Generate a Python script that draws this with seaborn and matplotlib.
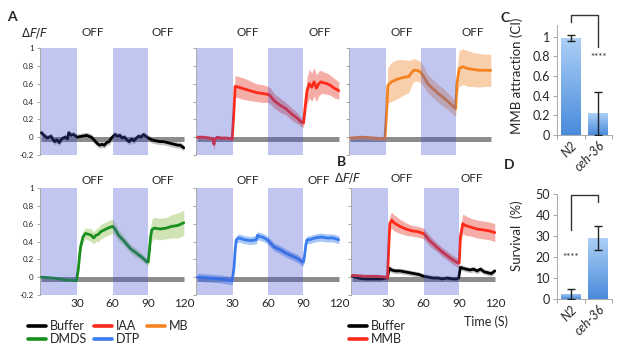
import numpy as np
import pandas as pd
import seaborn as sns
import matplotlib.pyplot as plt
from matplotlib.lines import Line2D

# ---- calcium traces (time in s, dF/F, half-width of band) ----
iaa_t = [0, 5, 10, 13, 14, 15, 17, 20, 25, 29.5, 31, 32, 35, 40, 45, 50, 55, 60, 62, 65, 70, 75, 80, 85, 88, 90,
         91.5, 93, 95, 97, 99, 101, 103, 105, 107, 110, 113, 116, 119, 120]
iaa_v = [0.0, 0.0, -0.01, -0.02, -0.08, -0.02, 0.0, -0.01, -0.01, -0.02, 0.3, 0.57, 0.56, 0.54, 0.52, 0.5, 0.49,
         0.48, 0.46, 0.41, 0.36, 0.32, 0.26, 0.21, 0.17, 0.16, 0.35, 0.52, 0.6, 0.56, 0.62, 0.55, 0.6, 0.62, 0.61,
         0.6, 0.58, 0.55, 0.53, 0.52]
iaa_e = [0.02, 0.02, 0.02, 0.03, 0.07, 0.03, 0.02, 0.02, 0.02, 0.02, 0.1, 0.12, 0.12, 0.12, 0.11, 0.1, 0.1, 0.09,
         0.09, 0.08, 0.08, 0.07, 0.07, 0.06, 0.05, 0.05, 0.12, 0.15, 0.16, 0.16, 0.16, 0.15, 0.14, 0.13, 0.12,
         0.12, 0.11, 0.11, 0.1, 0.1]

mb_t = [0, 10, 20, 29.5, 31, 32, 35, 40, 45, 50, 52, 54, 57, 60, 63, 66, 70, 75, 80, 85, 89, 90, 91, 93, 96,
        100, 105, 110, 115, 120]
mb_v = [-0.01, 0.0, -0.01, -0.02, 0.3, 0.58, 0.62, 0.65, 0.67, 0.68, 0.72, 0.75, 0.75, 0.73, 0.67, 0.6, 0.55,
        0.49, 0.44, 0.38, 0.33, 0.32, 0.6, 0.77, 0.79, 0.77, 0.76, 0.75, 0.75, 0.75]
mb_e = [0.02, 0.02, 0.02, 0.02, 0.15, 0.2, 0.22, 0.22, 0.2, 0.18, 0.15, 0.13, 0.12, 0.12, 0.11, 0.1, 0.1, 0.1,
        0.1, 0.09, 0.09, 0.09, 0.15, 0.2, 0.2, 0.2, 0.19, 0.19, 0.18, 0.18]

dmds_t = [0, 10, 20, 29.5, 31, 32, 33, 35, 37, 40, 42, 44, 46, 48, 50, 53, 56, 58, 60, 62, 65, 70, 75, 80, 85,
          89, 90, 91, 92, 93, 95, 100, 105, 110, 115, 120]
dmds_v = [0.0, -0.01, -0.03, -0.04, 0.08, 0.22, 0.34, 0.45, 0.49, 0.48, 0.47, 0.44, 0.47, 0.48, 0.51, 0.53,
          0.55, 0.56, 0.57, 0.54, 0.47, 0.4, 0.32, 0.27, 0.22, 0.17, 0.17, 0.3, 0.45, 0.53, 0.55, 0.54, 0.55,
          0.57, 0.58, 0.61]
dmds_e = [0.01, 0.01, 0.01, 0.01, 0.03, 0.04, 0.05, 0.06, 0.06, 0.07, 0.07, 0.07, 0.07, 0.08, 0.08, 0.08, 0.08,
          0.08, 0.08, 0.07, 0.06, 0.05, 0.05, 0.05, 0.04, 0.04, 0.04, 0.07, 0.1, 0.12, 0.12, 0.12, 0.12, 0.13,
          0.14, 0.14]

dtp_t = [0, 10, 20, 29.5, 31, 32, 33, 35, 40, 45, 50, 51, 52, 55, 58, 60, 65, 70, 75, 80, 85, 89, 90, 91, 92,
         93, 95, 100, 105, 110, 115, 120]
dtp_v = [0.0, -0.01, -0.02, -0.04, 0.1, 0.3, 0.42, 0.44, 0.42, 0.41, 0.42, 0.47, 0.46, 0.45, 0.43, 0.41, 0.34,
         0.31, 0.27, 0.24, 0.21, 0.17, 0.17, 0.25, 0.36, 0.42, 0.42, 0.44, 0.45, 0.44, 0.44, 0.42]
dtp_e = 0.045

buf_t = [0, 2, 5, 8, 11, 13, 15, 17, 20, 22, 23, 25, 27, 30, 34, 38, 42, 45, 47, 49, 51, 53, 55, 57, 59, 62, 64,
         66, 68, 70, 72, 74, 76, 78, 80, 82, 84, 86, 88, 90, 93, 96, 100, 103, 106, 109, 112, 115, 117, 119, 120]
buf_v = [0.05, 0.02, -0.01, 0.01, -0.05, -0.03, -0.06, -0.02, 0.0, -0.02, 0.05, 0.02, 0.03, 0.0, 0.01, 0.02,
         0.0, -0.04, -0.07, -0.09, -0.08, -0.09, -0.06, -0.05, -0.01, 0.03, 0.01, 0.02, -0.01, 0.0, -0.03, -0.05,
         -0.02, -0.04, -0.01, 0.01, 0.0, 0.03, 0.01, -0.01, -0.03, -0.04, -0.05, -0.05, -0.06, -0.07, -0.08,
         -0.09, -0.09, -0.11, -0.12]
buf_e = 0.035

mmb_t = [0, 10, 20, 28, 29.5, 30.5, 31.5, 33, 35, 40, 45, 50, 55, 60, 65, 70, 75, 80, 85, 89, 90, 91, 93, 95,
         100, 105, 110, 115, 120]
mmb_v = [0.02, 0.01, 0.01, 0.0, -0.01, 0.3, 0.6, 0.64, 0.61, 0.57, 0.54, 0.52, 0.51, 0.49, 0.41, 0.35, 0.29,
         0.24, 0.19, 0.16, 0.16, 0.45, 0.6, 0.58, 0.56, 0.54, 0.53, 0.52, 0.5]
mmb_e = [0.02, 0.02, 0.02, 0.02, 0.02, 0.06, 0.09, 0.09, 0.09, 0.08, 0.07, 0.06, 0.06, 0.06, 0.06, 0.05, 0.05,
         0.05, 0.05, 0.05, 0.05, 0.08, 0.11, 0.11, 0.1, 0.1, 0.1, 0.1, 0.1]

bbuf_t = [0, 5, 10, 15, 20, 25, 28, 29.5, 31, 33, 36, 40, 44, 48, 52, 56, 60, 64, 68, 72, 76, 80, 84, 88, 89.5,
          91, 93, 96, 99, 102, 105, 108, 111, 114, 117, 120]
bbuf_v = [0.01, -0.01, -0.02, -0.02, -0.02, -0.02, -0.01, -0.01, 0.1, 0.08, 0.07, 0.07, 0.06, 0.05, 0.04, 0.03,
          0.01, 0.0, -0.01, -0.01, -0.02, -0.01, -0.02, -0.02, -0.01, 0.11, 0.1, 0.09, 0.08, 0.09, 0.07, 0.09,
          0.06, 0.05, 0.04, 0.07]
bbuf_e = 0.03

# ---- behaviour panels ----
genotypes = ['N2', 'ceh-36']
attraction = [0.99, 0.22]
attraction_err = [0.03, 0.22]
survival = [2.5, 29]
survival_err = [2.5, 5.8]

COLORS = {'Buffer': '#000000', 'IAA': '#ff2a1a', 'MB': '#f58220', 'DMDS': '#17901d', 'DTP': '#3a7cf0',
          'MMB': '#ff2a1a'}
BANDS = {'Buffer': '#8f8f8f', 'IAA': '#ee6a60', 'MB': '#f5a866', 'DMDS': '#a8cc78', 'DTP': '#5e98ec',
         'MMB': '#ee6a60'}

W, H = 617, 354
sns.set_style('ticks')
plt.rcParams['font.family'] = ['Lato', 'DejaVu Sans']
fig = plt.figure(figsize=(W / 100, H / 100), dpi=100)


def px_axes(x0, y0, x1, y1):
    return fig.add_axes([x0 / W, 1 - y1 / H, (x1 - x0) / W, (y1 - y0) / H])


def ftext(x, y, s, **kw):
    fig.text(x / W, 1 - y / H, s, ha=kw.pop('ha', 'center'), va=kw.pop('va', 'center'), **kw)


def trace_panel(box, traces, left_labels, bottom_labels):
    ax = px_axes(*box)
    ax.plot([0, 120], [-0.025, -0.025], color='#8c8c8c', lw=3.6, zorder=1, solid_capstyle='butt')
    for name, t, v, e in traces:
        v = np.asarray(v)
        e = np.asarray(e) if np.ndim(e) else np.full(len(v), e)
        ax.fill_between(t, v - e, v + e, color=BANDS[name], alpha=0.55, lw=0, zorder=2)
        sns.lineplot(x=t, y=v, ax=ax, color=COLORS[name], lw=2.0, zorder=3, errorbar=None)
    for a, b in [(0, 30), (60, 90)]:
        ax.axvspan(a, b, color='#4052d1', alpha=0.33, lw=0, zorder=5)
    ax.set_xlim(-1.2, 121)
    ax.set_ylim(-0.2, 1)
    ax.set_yticks([-0.2, 0, 0.2, 0.4, 0.6, 0.8, 1])
    ax.set_yticklabels(['-0.2', '0', '0.2', '0.4', '0.6', '0.8', '1'] if left_labels else [])
    ax.tick_params(axis='y', length=2.5, width=0.6, color='#999999', labelsize=5.8, pad=2)
    ax.set_xticks([30, 60, 90, 120])
    ax.set_xticklabels(['30', '60', '90', '120'] if bottom_labels else [])
    ax.tick_params(axis='x', length=0, labelsize=8.5, pad=2)
    sns.despine(ax=ax, bottom=True)
    ax.spines['left'].set_color('#aaaaaa')
    ax.spines['left'].set_linewidth(0.7)
    ax.set_xlabel('')
    ax.set_ylabel('')
    return ax


top_y = (48, 155)
bot_y = (188, 295)
trace_panel((40, top_y[0], 185, top_y[1]), [('Buffer', buf_t, buf_v, buf_e)], True, False)
trace_panel((196, top_y[0], 340, top_y[1]), [('IAA', iaa_t, iaa_v, iaa_e)], False, False)
trace_panel((349, top_y[0], 492, top_y[1]), [('MB', mb_t, mb_v, mb_e)], False, False)
trace_panel((40, bot_y[0], 185, bot_y[1]), [('DMDS', dmds_t, dmds_v, dmds_e)], True, True)
trace_panel((196, bot_y[0], 340, bot_y[1]), [('DTP', dtp_t, dtp_v, dtp_e)], False, True)
trace_panel((351, bot_y[0], 496, bot_y[1]),
            [('Buffer', bbuf_t, bbuf_v, bbuf_e), ('MMB', mmb_t, mmb_v, mmb_e)], False, True)

# OFF / dF/F labels
for y, xs in [(33, [93, 163, 248, 320, 402, 473]), (180, [93, 163, 248, 319]), (178, [402, 472])]:
    for x in xs:
        ftext(x, y, 'OFF', fontsize=8.5)
ftext(35, 33, r'$\Delta F/F$', fontsize=8.5, math_fontfamily='dejavusans')
ftext(348, 178, r'$\Delta F/F$', fontsize=8.5, math_fontfamily='dejavusans')
ftext(486, 322, 'Time (S)', fontsize=9)

for x, y, s in [(12, 17, 'A'), (342, 162, 'B'), (505, 18, 'C'), (509, 165, 'D')]:
    ftext(x, y, s, fontsize=10, fontweight='bold')

# legends
handles = [Line2D([], [], color=COLORS[n], lw=2.6) for n in ['Buffer', 'DMDS', 'IAA', 'DTP', 'MB']]
fig.legend(handles, ['Buffer', 'DMDS', 'IAA', 'DTP', 'MB'], ncol=3, loc='upper left',
           bbox_to_anchor=(22 / W, 1 - 314 / H), frameon=False, fontsize=9, handlelength=1.4,
           handletextpad=0.3, columnspacing=0.6, labelspacing=0.05, borderpad=0)
fig.legend([Line2D([], [], color=COLORS['Buffer'], lw=2.6), Line2D([], [], color=COLORS['MMB'], lw=2.6)],
           ['Buffer', 'MMB'], loc='upper left', bbox_to_anchor=(343 / W, 1 - 314 / H), frameon=False,
           fontsize=9, handlelength=1.4, handletextpad=0.3, labelspacing=0.05, borderpad=0)


def bar_panel(box, vals, errs, ylim, yticks, ylabel, ylabel_xy, bracket, star_xy):
    ax = px_axes(*box)
    df = pd.DataFrame({'genotype': genotypes, 'value': vals})
    sns.barplot(data=df, x='genotype', y='value', ax=ax, width=0.72, color='#7fb0ea', errorbar=None)
    cmap = sns.blend_palette(['#4a8bdc', '#acd0f6'], as_cmap=True)
    for p in ax.patches:
        x0, y0 = p.get_x(), p.get_y()
        grad = np.linspace(0, 1, 64)[:, None]
        img = ax.imshow(grad, extent=[x0, x0 + p.get_width(), y0, y0 + p.get_height()], origin='lower',
                        cmap=cmap, aspect='auto', zorder=2)
        img.set_clip_path(p)
        p.set_facecolor('none')
    ax.errorbar(range(len(vals)), vals, yerr=errs, fmt='none', ecolor='#222222', elinewidth=1, capsize=3,
                capthick=1, zorder=4)
    ax.set_xlim(-0.5, 1.5)
    ax.set_ylim(*ylim)
    ax.set_yticks(yticks)
    ax.set_yticklabels([('%g' % v) for v in yticks])
    ax.tick_params(axis='y', length=3, width=0.6, color='#999999', labelsize=9, pad=2)
    ax.set_xticks([-0.5, 0.5, 1.5], minor=True)
    ax.tick_params(axis='x', which='minor', length=3, width=0.6, color='#999999')
    ax.tick_params(axis='x', which='major', length=0, labelsize=9, pad=3)
    ax.set_xticklabels(genotypes, rotation=45, ha='right', rotation_mode='anchor', style='italic')
    sns.despine(ax=ax)
    for s in ['left', 'bottom']:
        ax.spines[s].set_color('#aaaaaa')
        ax.spines[s].set_linewidth(0.7)
    ax.set_xlabel('')
    ax.set_ylabel('')
    ftext(ylabel_xy[0], ylabel_xy[1], ylabel, fontsize=9.5, rotation=90)
    bx, by = bracket
    ax.plot(bx, by, color='#333333', lw=1, clip_on=False, zorder=6)
    ax.text(star_xy[0], star_xy[1], '****', ha='center', va='center', fontsize=7)
    return ax


bar_panel((557, 25, 612, 135), attraction, attraction_err, (0, 1.12), [0, 0.2, 0.4, 0.6, 0.8, 1],
          'MMB attraction (CI)', (517, 76), ([0, 0, 1, 1], [1.15, 1.225, 1.225, 0.9]), (1, 0.79))
bar_panel((557, 194, 612, 299), survival, survival_err, (0, 50), [0, 10, 20, 30, 40, 50],
          'Survival  (%)', (517, 236), ([0, 0, 1, 1], [33, 49.5, 49.5, 46]), (0, 20))

fig.savefig('out.png', dpi=100)
